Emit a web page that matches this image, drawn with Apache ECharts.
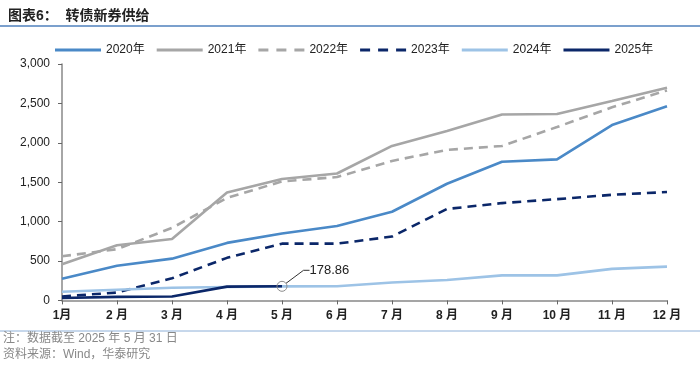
<!DOCTYPE html>
<html>
<head>
<meta charset="utf-8">
<script src="https://cdn.jsdelivr.net/npm/echarts@6/dist/echarts.min.js"></script>
<style>html,body{margin:0;padding:0;background:#fff;}#c{width:700px;height:367px;}</style>
</head>
<body>
<div id="c"></div>
<script>
var months = ['1月','2 月','3 月','4 月','5 月','6 月','7 月','8 月','9 月','10 月','11 月','12 月'];
var yTicks = [0, 500, 1000, 1500, 2000, 2500, 3000];
var s2020 = [275, 440, 530, 730, 850, 945, 1125, 1480, 1760, 1790, 2225, 2465];
var s2021 = [460, 700, 780, 1370, 1540, 1610, 1960, 2150, 2360, 2365, 2530, 2700];
var s2022 = [560, 650, 920, 1300, 1510, 1565, 1770, 1910, 1960, 2200, 2450, 2665];
var s2023 = [50, 100, 280, 540, 720, 720, 810, 1160, 1235, 1285, 1340, 1375];
var s2024 = [110, 135, 160, 170, 178, 180, 228, 258, 318, 318, 400, 428];
var s2025 = [30, 45, 50, 175, 178.86];
var names = ['2020年','2021年','2022年','2023年','2024年','2025年'];

var chart = echarts.init(document.getElementById('c'));
var font = '"Liberation Sans", Arial, "Noto Sans CJK SC", sans-serif';
function ln(name, data, color, type, z) {
  return {
    name: name, type: 'line', data: data, symbol: 'none', z: z,
    lineStyle: {color: color, width: 2.6, type: type},
    itemStyle: {color: color}, emphasis: {disabled: true}
  };
}
var last = s2025.length - 1;
var d2025 = s2025.map(function (v, i) {
  if (i !== last) return v;
  return {
    value: v, symbol: 'circle', symbolSize: 10,
    itemStyle: {color: 'rgba(255,255,255,0)', borderColor: '#8c8c8c', borderWidth: 1},
    label: {show: true, position: 'right', formatter: function (p) { return p.value.toFixed(2); },
      color: '#222', fontSize: 13, fontFamily: font, distance: 0}
  };
});
var series = [
  ln(names[0], s2020, '#4a89c7', 'solid', 2),
  ln(names[1], s2021, '#a6a6a6', 'solid', 2),
  ln(names[2], s2022, '#a6a6a6', [9, 6], 2),
  ln(names[3], s2023, '#0b2769', [9, 6], 2),
  ln(names[4], s2024, '#9dc3e6', 'solid', 2),
  ln(names[5], d2025, '#0b2769', 'solid', 3)
];
series[5].labelLayout = {dx: 22, dy: -16};
series[5].labelLine = {show: true, length2: 6, lineStyle: {color: '#333', width: 1}};

var solidIcon = 'path://M0,0h46v3h-46z';
var dashIcon = 'path://M0,0h10v3h-10zM18,0h10v3h-10zM36,0h10v3h-10z';
var legendData = names.map(function (n, i) {
  return {name: n, icon: (i === 2 || i === 3) ? dashIcon : solidIcon};
});

chart.setOption({
  animation: false,
  title: {text: '图表6：  转债新券供给', left: 3, top: 4,
    textStyle: {fontSize: 14, fontWeight: 'bold', color: '#222', fontFamily: font}},
  graphic: [
    {type: 'line', shape: {x1: 0, y1: 26, x2: 700, y2: 26}, style: {stroke: '#4f81bd', lineWidth: 1.5}},
    {type: 'line', shape: {x1: 0, y1: 331, x2: 700, y2: 331}, style: {stroke: '#8eb0d8', lineWidth: 1}},
    {type: 'text', left: 3, top: 333, style: {text: '注：数据截至 2025 年 5 月 31 日', fill: '#888', font: '12px ' + font}},
    {type: 'text', left: 3, top: 349, style: {text: '资料来源：Wind，华泰研究', fill: '#888', font: '12px ' + font}}
  ],
  legend: {
    data: legendData, top: 39, left: 50, itemWidth: 46, itemHeight: 3, itemGap: 12,
    textStyle: {fontSize: 12, color: '#222', fontFamily: font}
  },
  grid: {left: 62, right: 33, top: 64, bottom: 66.6, containLabel: false},
  xAxis: {
    type: 'category', data: months, boundaryGap: false,
    axisLine: {lineStyle: {color: '#888', width: 1.5}},
    axisTick: {show: true, length: 4, lineStyle: {color: '#666'}},
    axisLabel: {color: '#222', fontSize: 12, fontWeight: 'bold', margin: 9, fontFamily: font},
    splitLine: {show: false}
  },
  yAxis: {
    type: 'value', min: yTicks[0], max: yTicks[yTicks.length - 1], interval: 500,
    axisLine: {show: true, lineStyle: {color: '#888', width: 1.5}},
    axisTick: {show: true, length: 4, lineStyle: {color: '#666'}},
    axisLabel: {color: '#222', fontSize: 12, margin: 12, fontFamily: font,
      formatter: function (v) { return v.toLocaleString('en-US'); }},
    splitLine: {show: false}
  },
  series: series
});
</script>
</body>
</html>
